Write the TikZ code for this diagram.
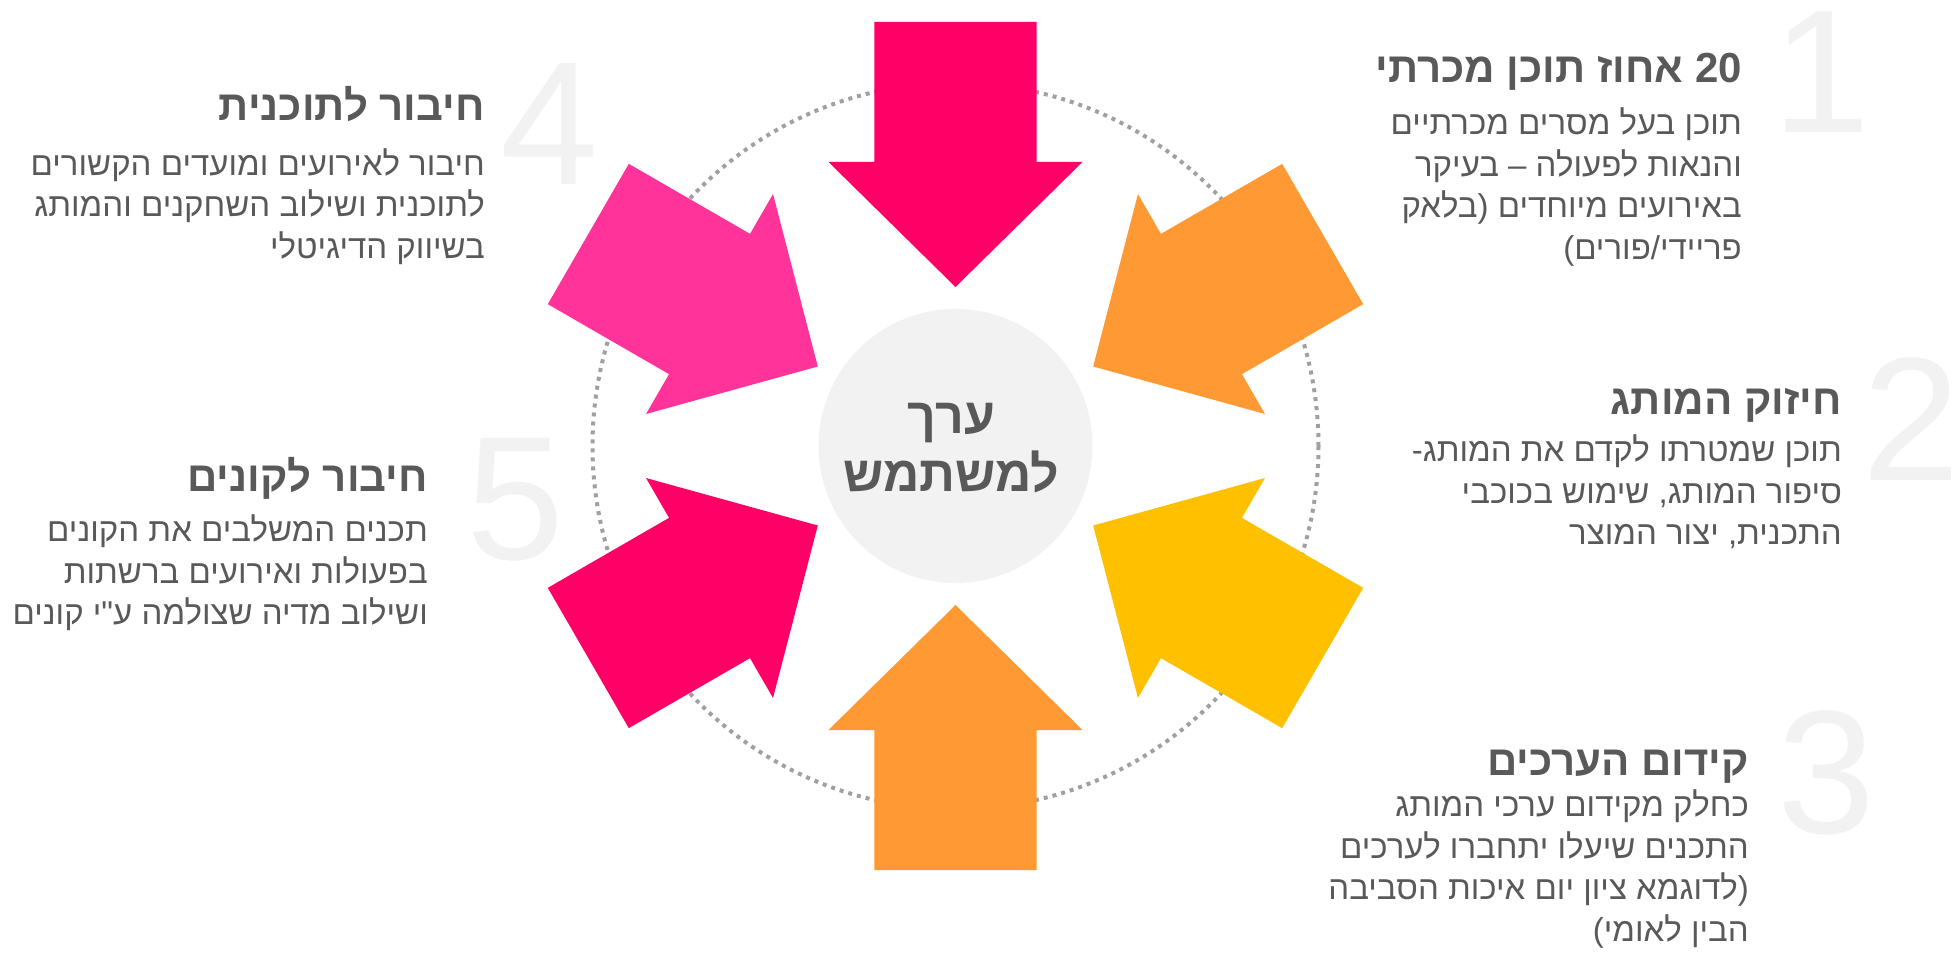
\documentclass[tikz,border=0pt]{standalone}
\usepackage{fontspec}
\usepackage{tikz}
\usetikzlibrary{positioning}
\TeXXeTstate=1
\newfontfamily\hebfont[Script=Hebrew]{Liberation Sans}
\definecolor{arrow_red}{RGB}{255,0,102}
\definecolor{arrow_pink}{RGB}{255,51,153}
\definecolor{arrow_orange}{RGB}{255,153,51}
\definecolor{arrow_yellow}{RGB}{255,192,0}
\definecolor{hub_gray}{RGB}{242,242,242}
\definecolor{num_gray}{RGB}{242,242,242}
\definecolor{ring_gray}{RGB}{160,160,160}
\definecolor{text_gray}{RGB}{89,89,89}
\newcommand{\rl}[1]{\strut\beginR #1\endR}

\begin{document}
\begin{tikzpicture}[x=1pt,y=1pt]
    \tikzstyle{num}=[text=num_gray, font=\hebfont\fontsize{176}{176}\selectfont, inner sep=0pt, anchor=base]
    \tikzstyle{head}=[text=text_gray, font=\hebfont\bfseries\fontsize{42}{37}\selectfont, inner sep=0pt, anchor=base east]
    \tikzstyle{body}=[text=text_gray, font=\hebfont\fontsize{33}{41.5}\selectfont, inner sep=0pt, align=right]
    \tikzstyle{hub}=[circle, fill=hub_gray, minimum size=274pt, inner sep=0pt]

    \useasboundingbox (-955.5,-507) rectangle (1000.5,446);

    % big numbers
    \node[num] (n1) at (866,313)     {1};
    \node[num] (n2) at (956,-34)     {2};
    \node[num] (n3) at (870.5,-387)  {3};
    \node[num] (n4) at (-406.5,261)  {4};
    \node[num] (n5) at (-440.5,-113) {5};

    \draw[ring_gray, line width=4pt, dash pattern=on 4pt off 5pt] (0,0) circle (363pt);

    \foreach \ang/\col in {90/arrow_red, 30/arrow_orange, -30/arrow_yellow, -90/arrow_orange, -150/arrow_red, 150/arrow_pink}
    {
        \fill[\col, rotate=\ang] (159,0) -- (284,127) -- (284,81) -- (424,81)
            -- (424,-81) -- (284,-81) -- (284,-127) -- cycle;
    }

    \node[hub] (hub) at (0,0) {};
    \node[text=text_gray, font=\hebfont\bfseries\fontsize{50}{55}\selectfont, inner sep=0pt, align=center] (value) at (-4,-5.5)
        {\rl{ערך}\\\rl{למשתמש}};

    \node[head] (h1) at (786.5,363) {\beginR 20 אחוז תוכן מכרתי\endR};
    \node[body, below left=22.5pt and 0pt of h1.base east] (b1)
        {\rl{תוכן בעל מסרים מכרתיים}\\\rl{והנאות לפעולה – בעיקר}\\\rl{באירועים מיוחדים (בלאק}\\\rl{פריידי/פורים)}};

    \node[head] (h2) at (886.5,31) {\beginR חיזוק המותג\endR};
    \node[body, below left=17.5pt and 0pt of h2.base east] (b2)
        {\rl{תוכן שמטרתו לקדם את המותג-}\\\rl{סיפור המותג, שימוש בכוכבי}\\\rl{התכנית, יצור המוצר}};

    \node[head] (h3) at (793.5,-329) {\beginR קידום הערכים\endR};
    \node[body, below left=12.5pt and 0pt of h3.base east] (b3)
        {\rl{כחלק מקידום ערכי המותג}\\\rl{התכנים שיעלו יתחברו לערכים}\\\rl{(לדוגמא ציון יום איכות הסביבה}\\\rl{הבין לאומי)}};

    \node[head] (h4) at (-470.5,325) {\beginR חיבור לתוכנית\endR};
    \node[body, below left=25pt and 0pt of h4.base east] (b4)
        {\rl{חיבור לאירועים ומועדים הקשורים}\\\rl{לתוכנית ושילוב השחקנים והמותג}\\\rl{בשיווק הדיגיטלי}};

    \node[head] (h5) at (-527.5,-45.5) {\beginR חיבור לקונים\endR};
    \node[body, below left=21pt and 0pt of h5.base east] (b5)
        {\rl{תכנים המשלבים את הקונים}\\\rl{בפעולות ואירועים ברשתות}\\\rl{ושילוב מדיה שצולמה ע"י קונים}};
\end{tikzpicture}
\end{document}
